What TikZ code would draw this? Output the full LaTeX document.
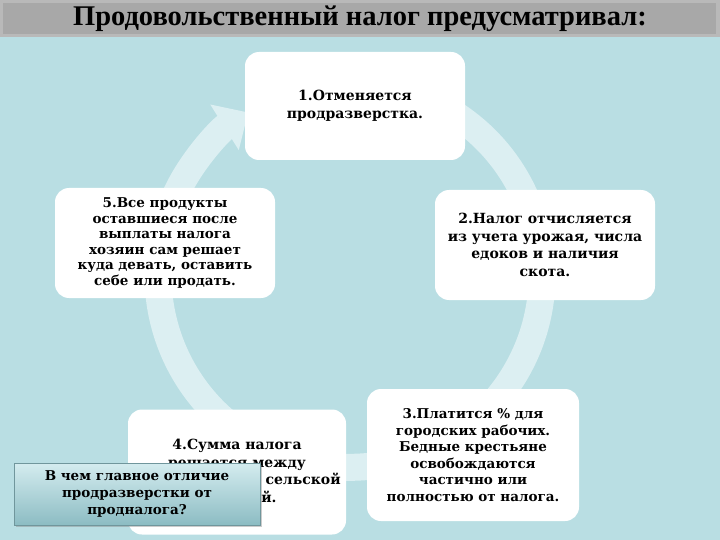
\documentclass[tikz,border=0pt]{standalone}
\usepackage{fontspec}
\setmainfont{DejaVu Serif}
\newfontfamily\ttlfont{Liberation Serif}
\usetikzlibrary{arrows.meta,shadows}
\definecolor{bg}{HTML}{B9DEE3}
\definecolor{ring}{HTML}{DCEFF2}
\definecolor{ttl}{HTML}{A8A8A8}
\definecolor{qtop}{HTML}{D4ECEF}
\definecolor{qbot}{HTML}{8CBCC3}
\tikzset{
 card/.style={fill=white,rounded corners=14pt,align=center,font=\bfseries\fontsize{14}{17.5}\selectfont,inner sep=3pt},
}
\begin{document}
\begin{tikzpicture}[x=1pt,y=-1pt]
\fill[bg] (0,0) rectangle (720,540);
\useasboundingbox (0,0) rectangle (720,540);
\fill[ttl!80!white] (0,0) rectangle (720,37);
\fill[ttl] (3,3) rectangle (716,34);
\node (title) at (360,19) {\ttlfont\bfseries\fontsize{28.5}{31}\selectfont Продовольственный налог предусматривал:};
\draw[ring,line width=27pt,-{Triangle[length=28pt,width=52pt]}] (446,109) arc[start angle=-60,end angle=238,radius=192];
\node[card,minimum width=220pt,minimum height=108pt] (b1) at (355,106) {1.Отменяется\\продразверстка.};
\node[card,minimum width=220pt,minimum height=110pt] (b2) at (545,245) {2.Налог отчисляется\\из учета урожая, числа\\едоков и наличия\\скота.};
\node[card,minimum width=220pt,minimum height=110pt,font=\bfseries\fontsize{13.5}{15.5}\selectfont] (b5) at (165,243) {5.Все продукты\\оставшиеся после\\выплаты налога\\хозяин сам решает\\куда девать, оставить\\себе или продать.};
\node[card,minimum width=212pt,minimum height=132pt,font=\bfseries\fontsize{13.5}{16.5}\selectfont] (b3) at (473,455) {3.Платится \% для\\городских рабочих.\\Бедные крестьяне\\освобождаются\\частично или\\полностью от налога.};
\node[card,minimum width=218pt,minimum height=125pt] (b4) at (237,472) {4.Сумма налога\\решается между\\государством и сельской\\общиной.};
\node[top color=qtop,bottom color=qbot,draw=qbot!80!black,line width=0.4pt,drop shadow={shadow xshift=2pt,shadow yshift=-2pt,opacity=.4},minimum width=246pt,minimum height=62pt,align=center,font=\bfseries\fontsize{13.5}{17}\selectfont] (q) at (137,494) {В чем главное отличие\\продразверстки от\\продналога?};
\end{tikzpicture}
\end{document}
